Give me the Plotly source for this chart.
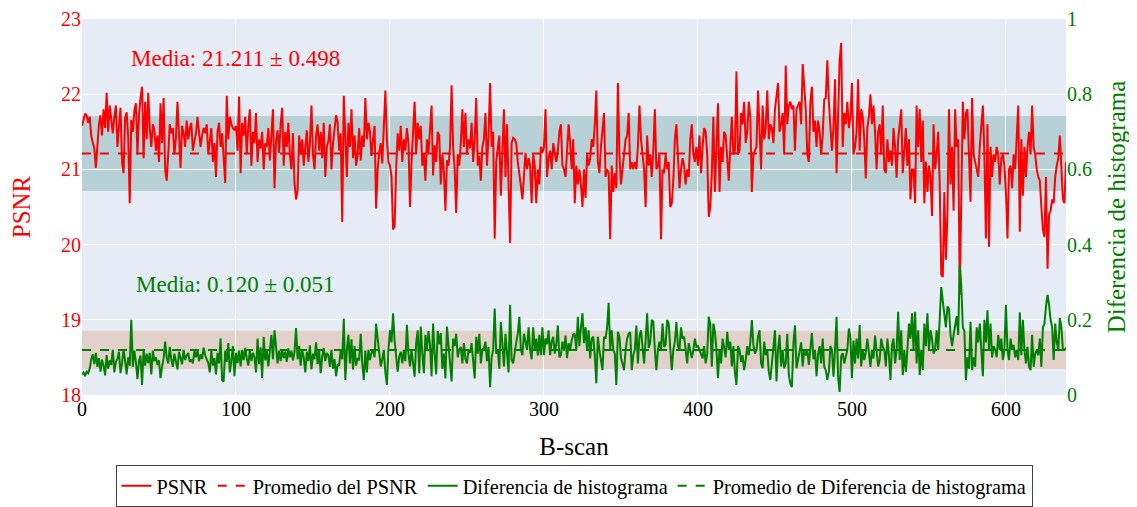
import plotly.graph_objects as go

psnr = [
    21.58, 21.68, 21.74, 21.72, 21.62, 21.70, 21.45, 21.35, 21.28, 21.02, 21.38, 21.60, 21.72, 21.45, 21.80, 21.55, 22.02, 21.50, 21.85, 21.62,
    21.48, 21.70, 21.85, 21.30, 21.58, 21.82, 21.10, 20.95, 21.68, 21.76, 21.42, 20.55, 21.66, 21.50, 21.78, 21.88, 21.20, 21.72, 21.95, 22.10,
    21.15, 21.90, 21.40, 22.02, 21.55, 21.30, 21.60, 21.52, 21.25, 21.45, 21.10, 21.88, 21.35, 21.95, 21.00, 20.85, 21.20, 21.60, 21.48, 21.55,
    21.20, 21.42, 21.90, 21.35, 21.02, 21.58, 21.48, 21.30, 21.65, 21.40, 21.55, 21.62, 21.25, 21.38, 21.48, 21.70, 21.52, 21.30, 21.45, 21.55,
    21.48, 21.60, 21.20, 21.40, 21.55, 21.10, 21.35, 20.90, 21.50, 21.62, 21.30, 21.48, 21.15, 20.82, 21.98, 21.40, 21.70, 21.60, 21.55, 21.52,
    21.58, 21.25, 21.97, 20.95, 21.62, 21.45, 21.70, 21.20, 21.58, 21.80, 21.05, 21.50, 21.35, 21.75, 21.10, 21.40, 21.28, 21.50, 21.00, 21.35,
    21.30, 21.55, 21.12, 21.45, 21.80, 20.75, 21.38, 21.52, 21.22, 21.60, 21.82, 21.05, 21.50, 21.30, 21.62, 21.20, 21.00, 21.48, 20.82, 20.60,
    20.72, 21.45, 21.20, 21.40, 21.05, 21.30, 21.52, 21.10, 21.35, 21.85, 21.20, 21.00, 21.45, 21.60, 21.25, 21.50, 21.15, 21.62, 20.90, 21.30,
    21.38, 21.60, 21.00, 21.35, 21.55, 21.72, 21.62, 21.25, 21.48, 20.30, 21.98, 21.40, 20.90, 21.62, 21.30, 21.80, 21.15, 21.45, 21.05, 21.20,
    21.55, 21.12, 21.45, 21.30, 21.95, 21.40, 21.62, 21.50, 21.18, 21.40, 21.58, 20.48, 21.00, 21.22, 21.35, 21.08, 21.50, 22.05, 21.40, 21.10,
    21.05, 20.90, 20.20, 20.25, 21.00, 21.48, 21.25, 21.58, 21.10, 21.40, 21.25, 21.55, 21.35, 20.50, 21.10, 21.48, 21.90, 21.20, 21.62, 21.40,
    21.58, 21.05, 21.22, 20.85, 21.40, 21.22, 21.50, 21.85, 20.92, 21.32, 21.10, 21.50, 21.45, 20.80, 21.20, 20.98, 20.45, 21.12, 21.05, 21.30,
    22.12, 21.30, 21.00, 20.42, 21.20, 21.05, 21.35, 21.80, 21.30, 21.75, 21.20, 21.40, 21.28, 21.62, 21.10, 21.40, 21.95, 21.05, 21.18, 20.85,
    21.30, 21.40, 21.75, 21.05, 21.45, 22.15, 21.30, 21.50, 20.08, 21.10, 21.28, 21.45, 20.65, 21.35, 21.80, 20.90, 21.60, 20.80, 20.02, 21.35,
    21.42, 21.40, 21.35, 21.10, 20.90, 20.78, 20.60, 20.95, 21.22, 21.00, 21.15, 21.05, 20.55, 21.20, 21.05, 20.55, 21.00, 20.80, 21.30, 21.22,
    21.30, 21.80, 20.90, 21.15, 21.25, 21.00, 21.35, 21.22, 21.10, 21.25, 21.50, 21.60, 21.05, 21.00, 20.90, 21.25, 21.60, 21.35, 21.00, 21.40,
    20.55, 21.05, 20.80, 21.00, 20.80, 20.50, 21.00, 20.62, 21.20, 21.05, 21.15, 21.40, 21.30, 21.60, 22.05, 21.10, 20.95, 21.30, 21.55, 21.75,
    20.90, 21.00, 20.95, 20.07, 21.05, 20.70, 20.95, 20.75, 22.15, 21.20, 20.80, 21.00, 21.15, 21.40, 21.45, 21.75, 21.00, 21.10, 21.00, 21.10,
    21.00, 21.30, 21.85, 21.40, 21.20, 21.00, 20.50, 21.45, 21.05, 21.20, 20.90, 21.25, 21.80, 21.00, 21.05, 21.20, 20.07, 21.00, 20.95, 21.20,
    21.00, 21.10, 20.50, 20.55, 20.85, 21.40, 21.60, 21.20, 20.75, 21.00, 21.15, 21.05, 20.80, 21.00, 20.90, 21.40, 21.60, 21.20, 21.10, 21.30,
    21.05, 21.45, 20.95, 21.30, 21.55, 21.50, 21.20, 20.37, 20.50, 20.95, 21.70, 20.70, 21.40, 21.88, 20.70, 21.30, 21.10, 21.50, 21.45, 21.20,
    20.85, 21.30, 21.70, 21.20, 21.25, 22.30, 21.20, 21.25, 21.75, 21.60, 21.90, 21.35, 21.50, 21.90, 21.70, 20.70, 21.20, 21.25, 21.30, 22.05,
    21.40, 21.00, 21.85, 21.40, 21.55, 22.05, 21.40, 21.60, 21.55, 21.35, 21.80, 21.95, 22.15, 21.50, 21.60, 21.75, 21.20, 22.38, 21.60, 21.85,
    21.90, 21.80, 21.85, 21.25, 21.80, 21.85, 21.90, 21.60, 22.40, 22.10, 21.80, 21.20, 21.10, 21.90, 22.10, 21.50, 21.65, 21.30, 21.65, 21.50,
    21.20, 21.45, 21.93, 21.95, 22.45, 21.90, 21.60, 21.25, 21.55, 22.20, 20.95, 21.80, 22.45, 22.68, 21.30, 21.75, 21.60, 21.90, 21.55, 21.70,
    22.15, 21.20, 21.30, 21.50, 22.20, 21.25, 21.80, 21.70, 21.40, 20.88, 21.55, 21.70, 22.00, 21.60, 21.85, 21.50, 21.00, 21.50, 21.60, 21.20,
    21.85, 21.00, 20.95, 21.40, 21.10, 21.25, 21.05, 21.55, 21.30, 20.89, 21.40, 21.60, 21.80, 20.95, 21.20, 21.55, 21.05, 21.40, 20.60, 21.00,
    21.00, 20.55, 21.85, 21.30, 21.80, 21.10, 21.65, 20.55, 21.10, 20.70, 21.05, 20.90, 20.38, 21.60, 21.00, 21.20, 21.50, 20.80, 19.60, 19.57,
    20.70, 19.80, 20.40, 21.80, 20.80, 21.30, 20.45, 21.80, 21.30, 21.40, 19.33, 20.60, 21.90, 21.40, 21.75, 21.80, 21.10, 20.57, 21.95, 21.20,
    21.10, 21.00, 20.90, 21.30, 21.60, 21.85, 21.20, 20.08, 21.60, 19.97, 21.30, 20.90, 21.20, 21.10, 21.30, 21.20, 20.80, 21.15, 21.20, 21.05,
    20.70, 20.08, 21.00, 21.05, 20.75, 21.20, 21.00, 21.40, 21.85, 20.17, 21.40, 20.65, 21.30, 20.90, 21.30, 21.50, 21.20, 21.85, 21.30, 21.20,
    21.00, 20.90, 20.85, 20.50, 20.20, 20.10, 20.90, 19.68, 20.40, 20.45, 20.60, 20.55, 20.90, 21.05, 21.15, 21.45, 21.00, 20.60, 20.55, 21.10,
]

hist_diff = [
    0.055, 0.060, 0.050, 0.062, 0.058, 0.070, 0.095, 0.108, 0.082, 0.112, 0.075, 0.098, 0.062, 0.094, 0.078, 0.052, 0.106, 0.070, 0.092, 0.080,
    0.120, 0.060, 0.088, 0.096, 0.115, 0.058, 0.084, 0.122, 0.090, 0.055, 0.100, 0.078, 0.200, 0.075, 0.118, 0.088, 0.042, 0.090, 0.105, 0.027,
    0.120, 0.078, 0.110, 0.085, 0.112, 0.055, 0.118, 0.090, 0.100, 0.080, 0.092, 0.045, 0.075, 0.098, 0.142, 0.100, 0.084, 0.128, 0.095, 0.075,
    0.110, 0.090, 0.068, 0.115, 0.098, 0.082, 0.120, 0.093, 0.105, 0.112, 0.088, 0.095, 0.084, 0.118, 0.100, 0.120, 0.090, 0.108, 0.096, 0.126,
    0.105, 0.092, 0.085, 0.060, 0.118, 0.078, 0.098, 0.055, 0.112, 0.084, 0.150, 0.040, 0.036, 0.118, 0.088, 0.138, 0.060, 0.092, 0.130, 0.050,
    0.112, 0.085, 0.118, 0.076, 0.120, 0.093, 0.125, 0.098, 0.078, 0.120, 0.090, 0.112, 0.100, 0.060, 0.150, 0.082, 0.126, 0.045, 0.155, 0.092,
    0.118, 0.076, 0.128, 0.160, 0.095, 0.172, 0.128, 0.084, 0.118, 0.090, 0.122, 0.098, 0.115, 0.088, 0.124, 0.100, 0.118, 0.092, 0.115, 0.178,
    0.095, 0.130, 0.078, 0.120, 0.100, 0.060, 0.115, 0.090, 0.132, 0.068, 0.110, 0.095, 0.140, 0.082, 0.118, 0.058, 0.102, 0.125, 0.090, 0.112,
    0.105, 0.075, 0.120, 0.070, 0.095, 0.050, 0.082, 0.078, 0.120, 0.095, 0.203, 0.040, 0.120, 0.160, 0.084, 0.148, 0.068, 0.130, 0.078, 0.098,
    0.092, 0.163, 0.084, 0.040, 0.118, 0.060, 0.120, 0.093, 0.112, 0.120, 0.100, 0.190, 0.150, 0.120, 0.076, 0.095, 0.120, 0.060, 0.027, 0.120,
    0.172, 0.140, 0.217, 0.145, 0.111, 0.062, 0.102, 0.115, 0.084, 0.120, 0.090, 0.187, 0.110, 0.076, 0.120, 0.084, 0.049, 0.138, 0.172, 0.058,
    0.182, 0.111, 0.058, 0.160, 0.120, 0.170, 0.133, 0.050, 0.190, 0.110, 0.055, 0.170, 0.135, 0.165, 0.070, 0.110, 0.044, 0.182, 0.128, 0.075,
    0.036, 0.150, 0.130, 0.163, 0.100, 0.120, 0.128, 0.084, 0.138, 0.095, 0.084, 0.120, 0.112, 0.138, 0.078, 0.044, 0.155, 0.110, 0.163, 0.084,
    0.120, 0.125, 0.142, 0.090, 0.128, 0.021, 0.100, 0.120, 0.230, 0.110, 0.120, 0.070, 0.194, 0.130, 0.076, 0.163, 0.100, 0.060, 0.240, 0.093,
    0.084, 0.120, 0.140, 0.163, 0.208, 0.120, 0.106, 0.163, 0.140, 0.120, 0.180, 0.120, 0.095, 0.180, 0.120, 0.150, 0.105, 0.160, 0.106, 0.180,
    0.106, 0.150, 0.135, 0.172, 0.106, 0.142, 0.155, 0.110, 0.135, 0.185, 0.100, 0.106, 0.142, 0.118, 0.158, 0.098, 0.138, 0.120, 0.145, 0.160,
    0.163, 0.120, 0.208, 0.130, 0.180, 0.217, 0.138, 0.180, 0.120, 0.172, 0.097, 0.150, 0.155, 0.106, 0.031, 0.155, 0.120, 0.098, 0.066, 0.155,
    0.150, 0.180, 0.245, 0.120, 0.172, 0.120, 0.110, 0.027, 0.168, 0.155, 0.098, 0.084, 0.066, 0.120, 0.150, 0.163, 0.167, 0.066, 0.106, 0.120,
    0.185, 0.084, 0.155, 0.172, 0.115, 0.084, 0.146, 0.217, 0.125, 0.140, 0.200, 0.195, 0.120, 0.066, 0.120, 0.142, 0.120, 0.190, 0.128, 0.135,
    0.200, 0.190, 0.125, 0.066, 0.120, 0.142, 0.194, 0.130, 0.120, 0.180, 0.150, 0.155, 0.120, 0.084, 0.138, 0.120, 0.098, 0.120, 0.150, 0.128,
    0.130, 0.120, 0.106, 0.097, 0.130, 0.084, 0.110, 0.208, 0.190, 0.075, 0.190, 0.168, 0.120, 0.045, 0.120, 0.084, 0.150, 0.120, 0.100, 0.168,
    0.120, 0.142, 0.076, 0.130, 0.060, 0.027, 0.130, 0.120, 0.088, 0.106, 0.066, 0.093, 0.130, 0.106, 0.140, 0.199, 0.133, 0.110, 0.120, 0.155,
    0.172, 0.084, 0.071, 0.142, 0.106, 0.120, 0.062, 0.040, 0.093, 0.128, 0.172, 0.036, 0.120, 0.160, 0.076, 0.120, 0.071, 0.084, 0.163, 0.053,
    0.030, 0.021, 0.138, 0.185, 0.071, 0.093, 0.120, 0.140, 0.076, 0.120, 0.105, 0.120, 0.080, 0.128, 0.165, 0.095, 0.120, 0.050, 0.110, 0.130,
    0.084, 0.150, 0.075, 0.066, 0.040, 0.062, 0.130, 0.120, 0.049, 0.120, 0.208, 0.049, 0.008, 0.103, 0.111, 0.084, 0.106, 0.120, 0.177, 0.154,
    0.045, 0.145, 0.084, 0.150, 0.097, 0.186, 0.076, 0.120, 0.093, 0.115, 0.150, 0.111, 0.075, 0.120, 0.097, 0.158, 0.120, 0.076, 0.093, 0.150,
    0.128, 0.120, 0.076, 0.150, 0.106, 0.040, 0.133, 0.150, 0.084, 0.120, 0.221, 0.093, 0.172, 0.053, 0.120, 0.062, 0.120, 0.190, 0.150, 0.217,
    0.120, 0.221, 0.084, 0.172, 0.053, 0.120, 0.066, 0.190, 0.130, 0.217, 0.120, 0.172, 0.150, 0.110, 0.120, 0.172, 0.120, 0.200, 0.287, 0.250,
    0.210, 0.180, 0.235, 0.230, 0.160, 0.130, 0.160, 0.190, 0.210, 0.160, 0.345, 0.290, 0.180, 0.170, 0.040, 0.100, 0.070, 0.195, 0.066, 0.100,
    0.075, 0.180, 0.140, 0.190, 0.120, 0.050, 0.200, 0.140, 0.225, 0.120, 0.190, 0.100, 0.130, 0.120, 0.100, 0.160, 0.120, 0.150, 0.093, 0.120,
    0.240, 0.120, 0.093, 0.150, 0.120, 0.133, 0.100, 0.120, 0.093, 0.220, 0.106, 0.200, 0.120, 0.084, 0.128, 0.075, 0.066, 0.160, 0.075, 0.110,
    0.120, 0.106, 0.150, 0.075, 0.180, 0.190, 0.235, 0.266, 0.240, 0.200, 0.180, 0.093, 0.190, 0.140, 0.120, 0.205, 0.180, 0.120, 0.120, 0.125,
]

psnr_mean = 21.211
psnr_std = 0.498
hist_mean = 0.120
hist_std = 0.051

x_psnr = list(range(len(psnr)))
x_hist = list(range(len(hist_diff)))
x_last = max(len(psnr), len(hist_diff)) - 1

FONT = "Liberation Serif, Times New Roman, serif"
RED = "#ff0000"
GREEN = "#008000"

fig = go.Figure()
fig.add_trace(go.Scatter(x=x_psnr, y=psnr, mode="lines", name="PSNR",
                         line=dict(color=RED, width=2), yaxis="y"))
fig.add_trace(go.Scatter(x=[0, x_last], y=[psnr_mean, psnr_mean], mode="lines",
                         name="Promedio del PSNR",
                         line=dict(color=RED, width=2, dash="dash"), yaxis="y"))
fig.add_trace(go.Scatter(x=x_hist, y=hist_diff, mode="lines", name="Diferencia de histograma",
                         line=dict(color=GREEN, width=2), yaxis="y2"))
fig.add_trace(go.Scatter(x=[0, x_last], y=[hist_mean, hist_mean], mode="lines",
                         name="Promedio de Diferencia de histograma",
                         line=dict(color=GREEN, width=2, dash="dash"), yaxis="y2"))

fig.add_shape(type="rect", xref="paper", yref="y", x0=0, x1=1,
              y0=psnr_mean - psnr_std, y1=psnr_mean + psnr_std,
              fillcolor="rgba(0,105,95,0.2)", line=dict(width=0), layer="between")
fig.add_shape(type="rect", xref="paper", yref="y2", x0=0, x1=1,
              y0=hist_mean - hist_std, y1=hist_mean + hist_std,
              fillcolor="rgba(210,105,30,0.2)", line=dict(width=0), layer="between")

fig.add_annotation(x=100, y=22.48, xref="x", yref="y",
                   text=f"Media: {psnr_mean:.3f} ± {psnr_std:.3f}", showarrow=False,
                   font=dict(family=FONT, size=23, color=RED))
fig.add_annotation(x=100, y=0.295, xref="x", yref="y2",
                   text=f"Media: {hist_mean:.3f} ± {hist_std:.3f}", showarrow=False,
                   font=dict(family=FONT, size=23, color=GREEN))

fig.update_layout(
    width=1137, height=515,
    margin=dict(l=74, r=79, t=11, b=128),
    paper_bgcolor="white",
    plot_bgcolor="#E5ECF6",
    font=dict(family=FONT, size=20, color="black"),
    xaxis=dict(range=[0, x_last], dtick=100, tick0=0, showgrid=True, gridcolor="white",
               zeroline=False, automargin=False,
               title=dict(text="B-scan", font=dict(size=25), standoff=18),
               tickfont=dict(size=20, color="black")),
    yaxis=dict(range=[18, 23], dtick=1, showgrid=True, gridcolor="white", zeroline=False,
               automargin=False,
               title=dict(text="PSNR", font=dict(size=25, color=RED), standoff=25),
               tickfont=dict(size=20, color=RED)),
    yaxis2=dict(range=[0, 1], dtick=0.2, overlaying="y", side="right", showgrid=False,
                zeroline=False, automargin=False,
                title=dict(text="Diferencia de histograma", font=dict(size=25, color=GREEN),
                           standoff=16),
                tickfont=dict(size=20, color=GREEN)),
    legend=dict(orientation="h", x=0.5, xanchor="center", y=-0.186, yanchor="top",
                bordercolor="#444", borderwidth=1, bgcolor="white",
                font=dict(size=20.3, color="black")),
    showlegend=True,
)

fig.write_html("out.html")
